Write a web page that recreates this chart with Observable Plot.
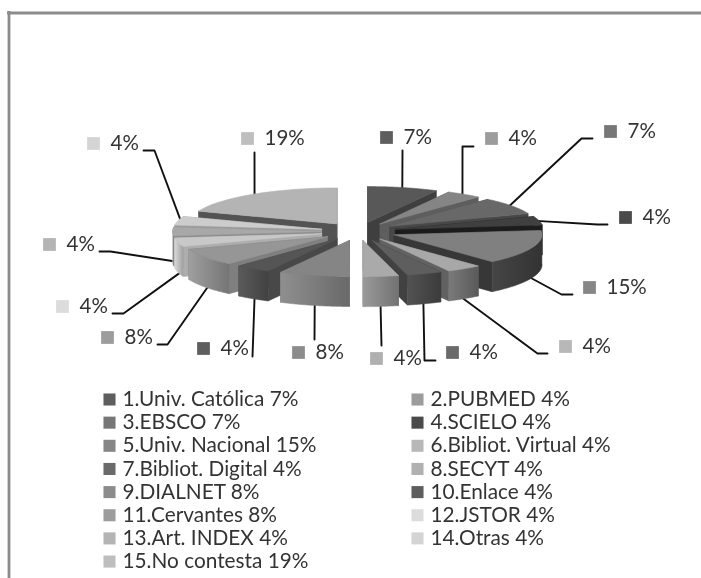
<!DOCTYPE html>
<html>
<head>
<meta charset="utf-8">
<script src="https://cdn.jsdelivr.net/npm/d3@7"></script>
<script src="https://cdn.jsdelivr.net/npm/@observablehq/plot@0.6"></script>
<style>
html,body{margin:0;padding:0;background:#fff}
svg{display:block;filter:blur(0.45px)}
</style>
</head>
<body>
<div id="chart"></div>
<script>
// Data
const names = ["1.Univ. Católica","2.PUBMED","3.EBSCO","4.SCIELO","5.Univ. Nacional","6.Bibliot. Virtual","7.Bibliot. Digital","8.SECYT","9.DIALNET","10.Enlace","11.Cervantes","12.JSTOR","13.Art. INDEX","14.Otras","15.No contesta"];
const percents = [7,4,7,4,15,4,4,4,8,4,8,4,4,4,19];
// Slice sizes (the printed percents are rounded)
const sliceSizes = [2,1,2,1,4,1,1,1,2,1,2,1,1,1,5];
// Styles
const swatchColors = ["#5e5e5e","#9c9c9c","#777777","#4a4a4a","#868686","#b8b8b8","#6a6a6a","#b0b0b0","#8c8c8c","#5e5e5e","#9c9c9c","#dcdcdc","#b4b4b4","#d4d4d4","#bebebe"];
const topColors = ["#585858","#858585","#686868","#404040","#808080","#a8a8a8","#5e5e5e","#aaaaaa","#858585","#555555","#969696","#c8c8c8","#a8a8a8","#cccccc","#b4b4b4"];
const wallColors = ["#444444","#666666","#4e4e4e","#1e1e1e","#3c3c3c","#6a6a6a","#474747","#868686","#7c7c7c","#4e4e4e","#8a8a8a","#bcbcbc","#999999","#aaaaaa","#5a5a5a"];
// Layout of the outside labels: swatch centre and leader elbow path on the page
const labelSpots = [[386,137],[491,138],[610,131],[625,217],[589,287],[565,346],[452,352],[376,358],[298,352],[203,348],[107,337],[62,306],[49,244],[93,143],[247,138]];
const leaderPaths = [[[402,150]],[[473,146],[462,146]],[[592,138],[581,138]],[[607,224],[597,224]],[[572,294],[561,294]],[[547,353],[537,353]],[[435,360],[424,360]],[[381,345]],[[314,339]],[[252,356]],[[157,344],[167,344]],[[112,313],[123,313]],[[99,251],[110,251]],[[143,150],[154,150]],[[254,152]]];

const W = 701, H = 578;
const cx = 358, cy = 231, R = 148, k = 0.243, explode = 38, depth = 30;
const tau = 2 * Math.PI;

const arcs = [];
let cum = 0;
const total = d3.sum(sliceSizes);
sliceSizes.forEach((p, i) => {
  const a0 = cum / total * tau; cum += p;
  const a1 = cum / total * tau;
  const mid = (a0 + a1) / 2;
  arcs.push({i, a0, a1, mid, ox: cx + explode * Math.sin(mid), oy: cy - explode * Math.cos(mid) * k});
});
const pt = (s, a, r = R) => [s.ox + r * Math.sin(a), s.oy - r * k * Math.cos(a)];

function shade(c, f) {
  const q = d3.rgb(c);
  return d3.rgb(q.r * f, q.g * f, q.b * f).formatHex();
}

// Build the polygons of the exploded 3D pie, back to front
const poly = [];
let pid = 0;
function addPoly(pts, color) {
  const z = pid++;
  for (const [x, y] of [...pts, pts[0]]) poly.push({x, y, z, color});
}
[...arcs].sort((a, b) => (-Math.cos(a.mid)) - (-Math.cos(b.mid))).forEach(s => {
  const wall = wallColors[s.i];
  const dn = ([x, y]) => [x, y + depth];
  const A = [s.ox, s.oy];
  // radial walls
  for (const a of [s.a0, s.a1]) {
    const P = pt(s, a);
    addPoly([A, P, dn(P), dn(A)], shade(wall, 0.92));
  }
  // outer wall, only the part that faces the viewer, shaded by a sideways gradient
  const m = 40;
  const rim = d3.range(m + 1).map(j => s.a0 + (s.a1 - s.a0) * j / m).filter(a => Math.cos(a) < 0.05).map(a => pt(s, a));
  if (rim.length > 1) addPoly([...rim, ...rim.map(dn).reverse()], `url(#wall${s.i})`);
  // top face
  const top = [A];
  for (let j = 0; j <= m; j++) top.push(pt(s, s.a0 + (s.a1 - s.a0) * j / m));
  addPoly(top, topColors[s.i]);
});

// Gradient definitions for the outer walls
const wallGradients = () => {
  const defs = d3.create("svg:defs");
  wallColors.forEach((c, i) => {
    const g = defs.append("linearGradient").attr("id", `wall${i}`).attr("x1", 0).attr("x2", 1).attr("y1", 0).attr("y2", 0);
    g.append("stop").attr("offset", "0%").attr("stop-color", shade(c, 1.15));
    g.append("stop").attr("offset", "100%").attr("stop-color", shade(c, 0.85));
  });
  return defs.node();
};

// Leaders run from the label to the slice's outer edge at its middle angle
const leaders = [];
arcs.forEach(s => {
  const end = pt(s, s.mid, R - 3);
  if (Math.cos(s.mid) < 0) end[1] += depth;
  for (const [x, y] of leaderPaths[s.i]) leaders.push({x, y, z: s.i});
  leaders.push({x: end[0], y: end[1], z: s.i});
});

// Outside labels
const labels = percents.map((p, i) => ({
  sx: labelSpots[i][0], sy: labelSpots[i][1], text: p + "%", color: swatchColors[i]
}));

// Legend in two columns, filled row by row
const legendRows = percents.map((p, i) => ({
  col: i % 2, row: Math.floor(i / 2), text: `${names[i]} ${p}%`, color: swatchColors[i]
}));
const legendX = col => col ? 417 : 109;
const legendY = row => 399 + row * 23.15;

const chart = Plot.plot({
  width: W, height: H,
  margin: 0,
  x: {domain: [0, W], range: [0, W], axis: null},
  y: {domain: [0, H], range: [0, H], axis: null},
  color: {type: "identity"},
  style: {background: "#fff"},
  marks: [
    wallGradients,
    Plot.ruleY([12.5], {x1: 7, x2: W, stroke: "#8c8c8c", strokeWidth: 2.8}),
    Plot.ruleX([8.5], {y1: 11, y2: H, stroke: "#8c8c8c", strokeWidth: 2.8}),
    Plot.line(leaders, {x: "x", y: "y", z: "z", stroke: "#111", strokeWidth: 1.9, curve: "linear"}),
    Plot.line(poly, {x: "x", y: "y", z: "z", fill: "color", stroke: "color", strokeWidth: 0.6, curve: "linear"}),
    Plot.dot(labels, {x: "sx", y: "sy", symbol: "square", r: 7.2, fill: "color", stroke: "none"}),
    Plot.text(labels, {x: d => d.sx + 17, y: "sy", text: "text", textAnchor: "start", fill: "#333", fontSize: 20.5, fontFamily: "Lato"}),
    Plot.dot(legendRows, {x: d => legendX(d.col), y: d => legendY(d.row), symbol: "square", r: 6.8, fill: "color", stroke: "none"}),
    Plot.text(legendRows, {x: d => legendX(d.col) + 13, y: d => legendY(d.row), text: "text", textAnchor: "start", fill: "#333", fontSize: 20.8, fontFamily: "Lato"})
  ]
});
document.getElementById("chart").append(chart);
</script>
</body>
</html>
